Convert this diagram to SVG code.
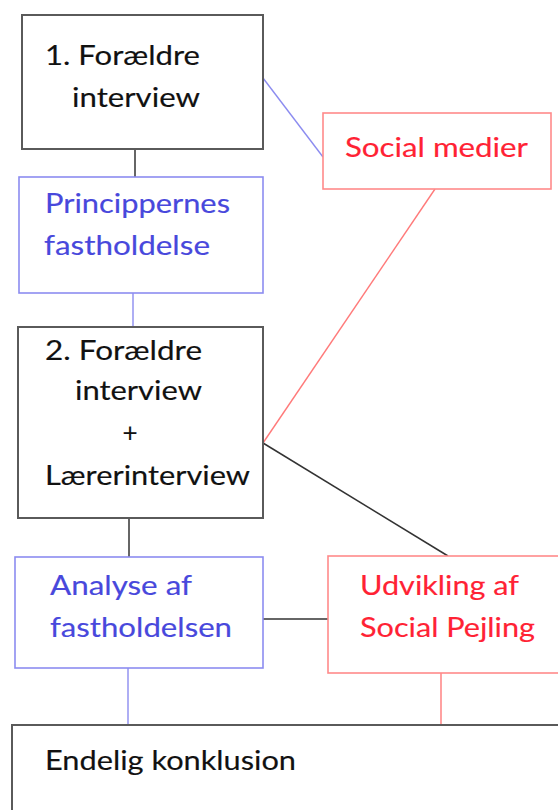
<svg xmlns="http://www.w3.org/2000/svg" width="558" height="810" viewBox="0 0 558 810">
<style>
text{font-family:Lato,"Open Sans","Liberation Sans",sans-serif;font-size:26px;stroke-width:0.15}
.k rect{fill:#fff;stroke:#5a5a5a;stroke-width:2}
.b rect{fill:#fff;stroke:#8c8cf0;stroke-width:1.6}
.r rect{fill:#fff;stroke:#ff8a8a;stroke-width:1.6}
.k text{fill:#111;stroke:#111}
.b text{fill:#4848dc;stroke:#4848dc}
.r text{fill:#ff2234;stroke:#ff2234}
.lk{stroke:#333;stroke-width:1.5}
.lb{stroke:#8c8cf0;stroke-width:1.4}
.lr{stroke:#ff7a7a;stroke-width:1.4}
</style>
<rect width="558" height="810" fill="#fff"/>
<g id="connectors" fill="none">
<line class="lk" x1="135" y1="149" x2="135" y2="177"/>
<line class="lb" x1="263" y1="78" x2="323" y2="157"/>
<line class="lb" x1="133" y1="293" x2="133" y2="327"/>
<line class="lr" x1="435" y1="189" x2="263" y2="443"/>
<line class="lk" x1="263" y1="443" x2="448" y2="556"/>
<line class="lk" x1="129" y1="518" x2="129" y2="557"/>
<line class="lk" x1="258" y1="619" x2="328" y2="619"/>
<line class="lb" x1="128" y1="668" x2="128" y2="725"/>
<line class="lr" x1="441" y1="673" x2="441" y2="725"/>
</g>
<g id="n1" class="k">
<rect x="22" y="15" width="241" height="134"/>
<text x="45" y="65" textLength="155" lengthAdjust="spacingAndGlyphs">1. Forældre</text>
<text x="72" y="107" textLength="128" lengthAdjust="spacingAndGlyphs">interview</text>
</g>
<g id="social" class="r">
<rect x="323" y="113" width="228" height="76"/>
<text x="345" y="157" textLength="183" lengthAdjust="spacingAndGlyphs">Social medier</text>
</g>
<g id="princip" class="b">
<rect x="19" y="177" width="244" height="116"/>
<text x="45" y="213" textLength="185" lengthAdjust="spacingAndGlyphs">Princippernes</text>
<text x="44" y="255" textLength="166" lengthAdjust="spacingAndGlyphs">fastholdelse</text>
</g>
<g id="n2" class="k">
<rect x="18" y="327" width="245" height="191"/>
<text x="45" y="360" textLength="157" lengthAdjust="spacingAndGlyphs">2. Forældre</text>
<text x="75" y="400" textLength="127" lengthAdjust="spacingAndGlyphs">interview</text>
<text x="130" y="442" text-anchor="middle">+</text>
<text x="45" y="485" textLength="205" lengthAdjust="spacingAndGlyphs">Lærerinterview</text>
</g>
<g id="analyse" class="b">
<rect x="15" y="557" width="248" height="111"/>
<text x="50" y="595" textLength="142" lengthAdjust="spacingAndGlyphs">Analyse af</text>
<text x="50" y="637" textLength="182" lengthAdjust="spacingAndGlyphs">fastholdelsen</text>
</g>
<g id="udvikling" class="r">
<rect x="328" y="556" width="240" height="117"/>
<text x="360" y="595" textLength="159" lengthAdjust="spacingAndGlyphs">Udvikling af</text>
<text x="360" y="637" textLength="175" lengthAdjust="spacingAndGlyphs">Social Pejling</text>
</g>
<g id="endelig" class="k">
<rect x="12" y="725" width="560" height="100"/>
<text x="45" y="770" textLength="251" lengthAdjust="spacingAndGlyphs">Endelig konklusion</text>
</g>
</svg>
